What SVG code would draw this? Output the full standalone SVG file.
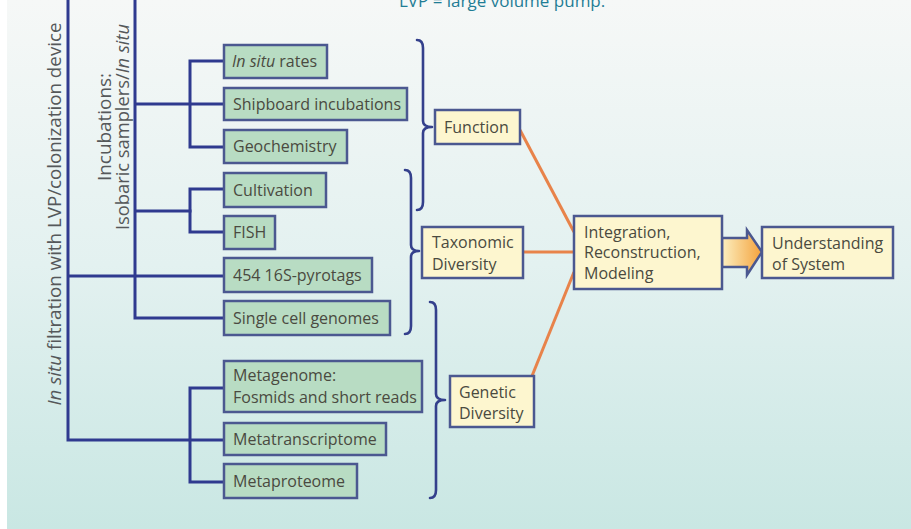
<svg xmlns="http://www.w3.org/2000/svg" width="911" height="529" viewBox="0 0 911 529">
  <defs>
    <linearGradient id="bg" x1="0" y1="0" x2="0" y2="1">
      <stop offset="0" stop-color="#f6f8f7"/>
      <stop offset="0.5" stop-color="#e3f1f0"/>
      <stop offset="1" stop-color="#c9e7e3"/>
    </linearGradient>
    <linearGradient id="arrowFill" x1="0" y1="0" x2="1" y2="0">
      <stop offset="0" stop-color="#fcefc0"/>
      <stop offset="1" stop-color="#f4a23c"/>
    </linearGradient>
    <style>
      .ln { stroke: #2f3a8f; stroke-width: 3; fill: none; stroke-linecap: square; }
      .br { stroke: #34408c; stroke-width: 2.6; fill: none; stroke-linecap: round; stroke-linejoin: round; }
      .or { stroke: #e8834a; stroke-width: 3; fill: none; }
      .g { fill: #b8dcc3; stroke: #4b5890; stroke-width: 2.5; }
      .y { fill: #fdf6cf; stroke: #4b5890; stroke-width: 2.5; }
      .t { font-family: "Open Sans", "Liberation Sans", sans-serif; font-size: 16px; fill: #4a4a40; }
      .v { font-family: "Open Sans", "Liberation Sans", sans-serif; font-size: 18px; fill: #55585a; }
      .i { font-style: italic; }
    </style>
  </defs>

  <rect x="0" y="0" width="911" height="529" fill="#ffffff"/>
  <rect x="7" y="0" width="904" height="529" fill="url(#bg)"/>

  <text x="399" y="7" font-family="Open Sans, Liberation Sans, sans-serif" font-size="17" fill="#1f7d95">LVP = large volume pump.</text>

  <!-- vertical labels -->
  <text class="v" transform="translate(61,214) rotate(-90)" text-anchor="middle" textLength="383" lengthAdjust="spacingAndGlyphs"><tspan class="i">In situ</tspan> filtration with LVP/colonization device</text>
  <text class="v" transform="translate(111,127) rotate(-90)" text-anchor="middle" textLength="108" lengthAdjust="spacingAndGlyphs">Incubations:</text>
  <text class="v" transform="translate(129,127) rotate(-90)" text-anchor="middle" textLength="206" lengthAdjust="spacingAndGlyphs">Isobaric samplers/<tspan class="i">In situ</tspan></text>

  <g id="connectors">
    <path class="ln" d="M68,0 V440 H224 M68,276 H224"/>
    <path class="ln" d="M135,0 V318 H224 M135,104 H224 M135,211 H190"/>
    <path class="ln" d="M224,61 H190 V147 H224"/>
    <path class="ln" d="M224,189 H190 V232 H224"/>
    <path class="ln" d="M224,388 H190 V482 H224"/>
    <path class="br" d="M417,40 Q423,40 423,48 L423,121 Q423,127 432,127 Q423,127 423,133 L423,202 Q423,210 417,210"/>
    <path class="br" d="M405,170 Q411,170 411,178 L411,245 Q411,251 419,251 Q411,251 411,257 L411,326 Q411,334 405,334"/>
    <path class="br" d="M430,302 Q436,302 436,310 L436,394 Q436,400 445,400 Q436,400 436,406 L436,490 Q436,498 430,498"/>
    <path class="or" d="M520,130 L574,232"/>
    <path class="or" d="M523,252 H574"/>
    <path class="or" d="M532,376 L574,272"/>
    <polygon points="722,238 747,238 747,230 762,252 747,275 747,267 722,267" fill="url(#arrowFill)" stroke="#4b5890" stroke-width="2.5" stroke-linejoin="miter"/>
  </g>

  <g id="n-insitu-rates"><rect class="g" x="224" y="45" width="103" height="33"/><text class="t" x="232" y="67"><tspan class="i">In situ</tspan> rates</text></g>
  <g id="n-shipboard"><rect class="g" x="224" y="88" width="183" height="32"/><text class="t" x="233" y="110">Shipboard incubations</text></g>
  <g id="n-geochem"><rect class="g" x="224" y="130" width="123" height="33"/><text class="t" x="233" y="152">Geochemistry</text></g>
  <g id="n-cultivation"><rect class="g" x="224" y="173" width="102" height="34"/><text class="t" x="233" y="196">Cultivation</text></g>
  <g id="n-fish"><rect class="g" x="224" y="216" width="51" height="33"/><text class="t" x="233" y="238">FISH</text></g>
  <g id="n-pyrotags"><rect class="g" x="224" y="258" width="148" height="34"/><text class="t" x="233" y="281">454 16S-pyrotags</text></g>
  <g id="n-singlecell"><rect class="g" x="224" y="301" width="166" height="34"/><text class="t" x="233" y="324">Single cell genomes</text></g>
  <g id="n-metagenome"><rect class="g" x="224" y="361" width="198" height="51"/><text class="t" x="233" y="381">Metagenome:</text><text class="t" x="233" y="403">Fosmids and short reads</text></g>
  <g id="n-metatranscriptome"><rect class="g" x="224" y="423" width="162" height="32"/><text class="t" x="233" y="445">Metatranscriptome</text></g>
  <g id="n-metaproteome"><rect class="g" x="224" y="464" width="133" height="34"/><text class="t" x="233" y="487">Metaproteome</text></g>

  <g id="n-function"><rect class="y" x="435" y="110" width="85" height="34"/><text class="t" x="444" y="133">Function</text></g>
  <g id="n-taxonomic"><rect class="y" x="422" y="227" width="101" height="51"/><text class="t" x="432" y="248">Taxonomic</text><text class="t" x="432" y="270">Diversity</text></g>
  <g id="n-genetic"><rect class="y" x="450" y="376" width="84" height="51"/><text class="t" x="459" y="398">Genetic</text><text class="t" x="459" y="419">Diversity</text></g>
  <g id="n-integration"><rect class="y" x="574" y="216" width="148" height="73"/><text class="t" x="584" y="238">Integration,</text><text class="t" x="584" y="258">Reconstruction,</text><text class="t" x="584" y="279">Modeling</text></g>
  <g id="n-understanding"><rect class="y" x="762" y="227" width="131" height="51"/><text class="t" x="772" y="249">Understanding</text><text class="t" x="772" y="270">of System</text></g>
</svg>
